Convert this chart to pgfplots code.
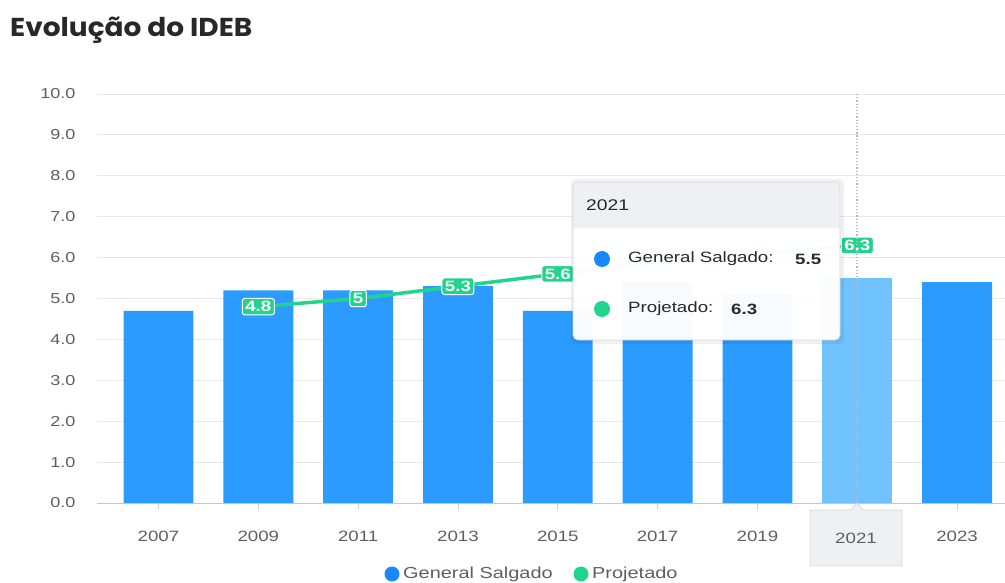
\documentclass[border=0pt]{standalone}
\usepackage{fontspec}
\setmainfont{Liberation Sans}[FakeStretch=1.25]
\newfontfamily\titlefont{Poppins}[FakeStretch=1.08]
\usepackage{pgfplots}
\pgfplotsset{compat=1.18}
\definecolor{barblue}{RGB}{43,155,255}
\definecolor{hoverblue}{RGB}{112,195,255}
\definecolor{lgblue}{RGB}{24,136,255}
\definecolor{projgreen}{RGB}{34,212,139}
\definecolor{gridgray}{RGB}{232,232,232}
\definecolor{ticktext}{RGB}{95,95,95}
\definecolor{titlecol}{RGB}{40,40,40}
\definecolor{tipgray}{RGB}{238,240,243}
\definecolor{tipborder}{RGB}{215,218,222}

\begin{document}
\begin{tikzpicture}
\path[use as bounding box] (0bp,0bp) rectangle (1005bp,583bp);
\node[anchor=base west, font=\titlefont\bfseries\fontsize{26}{30}\selectfont, text=titlecol, inner sep=0pt] at (10bp,546bp) {Evolução do IDEB};

\begin{axis}[
  at={(97bp,80bp)}, anchor=south west,
  scale only axis, width=908bp, height=409bp,
  xmin=-0.616, xmax=8.48, ymin=0, ymax=10,
  ytick={0,1,...,10},
  xtick={0,...,8},
  xticklabels={2007,2009,2011,2013,2015,2017,2019,,2023},
  /pgf/number format/assume math mode=true,
  yticklabel={\pgfmathprintnumber[fixed,precision=1,zerofill]{\tick}},
  axis x line*=bottom, axis y line*=left,
  x axis line style={draw=black!22, line width=0.8bp, -},
  y axis line style={draw=none},
  ytick style={draw=none},
  xtick style={draw=black!20, line width=0.8bp},
  tick align=outside, major tick length=6bp,
  ymajorgrids, grid style={gridgray, line width=0.9bp},
  yticklabel style={font=\fontsize{14.5}{16}\selectfont, text=ticktext, xshift=-12bp},
  xticklabel style={font=\fontsize{15}{17}\selectfont, text=ticktext, yshift=-19bp},
  clip=false,
]
\addplot[ybar, bar width=0.7, bar shift=0pt, fill=barblue, draw=none]
  coordinates {(0,4.7) (1,5.2) (2,5.2) (3,5.3) (4,4.7) (5,5.4) (6,5.1) (8,5.4)};
\addplot[ybar, bar width=0.7, bar shift=0pt, fill=hoverblue, draw=none]
  coordinates {(7,5.5)};
\addplot[projgreen, line width=3.5bp, mark=none]
  coordinates {(1,4.8) (2,5.0) (3,5.3) (4,5.6) (5,5.9) (6,6.1) (7,6.3)};
\addplot[draw=none, mark=none,
  nodes near coords, nodes near coords align=center,
  every node near coord/.style={fill=projgreen, draw=white, line width=1bp, rounded corners=2.5bp,
     text=white, font=\bfseries\fontsize{15}{17}\selectfont, inner sep=3bp, anchor=center}]
  coordinates {(1,4.8) (2,5.0) (3,5.3) (4,5.6) (7,6.3)};
\end{axis}

% axis pointer
\draw[black!28, dotted, line width=1.2bp] (857bp,489bp) -- (857bp,80bp);
% x-axis pointer label box
\draw[tipborder, fill=tipgray, line width=0.8bp]
  (810bp,17bp) -- (810bp,73bp) -- (851bp,73bp) -- (857bp,80bp) -- (863bp,73bp) -- (902bp,73bp) -- (902bp,17bp) -- cycle;
\node[font=\fontsize{15}{17}\selectfont, text=ticktext] at (856bp,45bp) {2021};

% tooltip
\fill[black, opacity=0.06, rounded corners=5bp] (571bp,239bp) rectangle (844bp,404bp);
\fill[white, fill opacity=0.97, rounded corners=5bp] (573bp,243bp) rectangle (840bp,401bp);
\fill[tipgray, rounded corners=5bp] (573bp,355bp) rectangle (840bp,401bp);
\fill[tipgray] (573bp,355bp) rectangle (840bp,365bp);
\draw[tipborder, line width=0.6bp, rounded corners=5bp] (573bp,243bp) rectangle (840bp,401bp);
\node[anchor=west, font=\fontsize{15.5}{17}\selectfont, text=titlecol, inner sep=0pt] at (586bp,378bp) {2021};
\fill[lgblue] (602bp,324bp) circle (8bp);
\node[anchor=west, font=\fontsize{15}{17}\selectfont, text=titlecol, inner sep=0pt] at (628bp,324bp) {General Salgado:};
\node[anchor=west, font=\bfseries\fontsize{15}{17}\selectfont, text=titlecol, inner sep=0pt] at (795bp,324bp) {5.5};
\fill[projgreen] (602bp,274bp) circle (8bp);
\node[anchor=west, font=\fontsize{15}{17}\selectfont, text=titlecol, inner sep=0pt] at (628bp,274bp) {Projetado:};
\node[anchor=west, font=\bfseries\fontsize{15}{17}\selectfont, text=titlecol, inner sep=0pt] at (731bp,274bp) {6.3};

% legend
\fill[lgblue] (392bp,9bp) circle (7.5bp);
\node[anchor=west, font=\fontsize{16}{18}\selectfont, text=ticktext, inner sep=0pt] at (403bp,9bp) {General Salgado};
\fill[projgreen] (581bp,9bp) circle (7.5bp);
\node[anchor=west, font=\fontsize{16}{18}\selectfont, text=ticktext, inner sep=0pt] at (592bp,9bp) {Projetado};
\end{tikzpicture}
\end{document}
